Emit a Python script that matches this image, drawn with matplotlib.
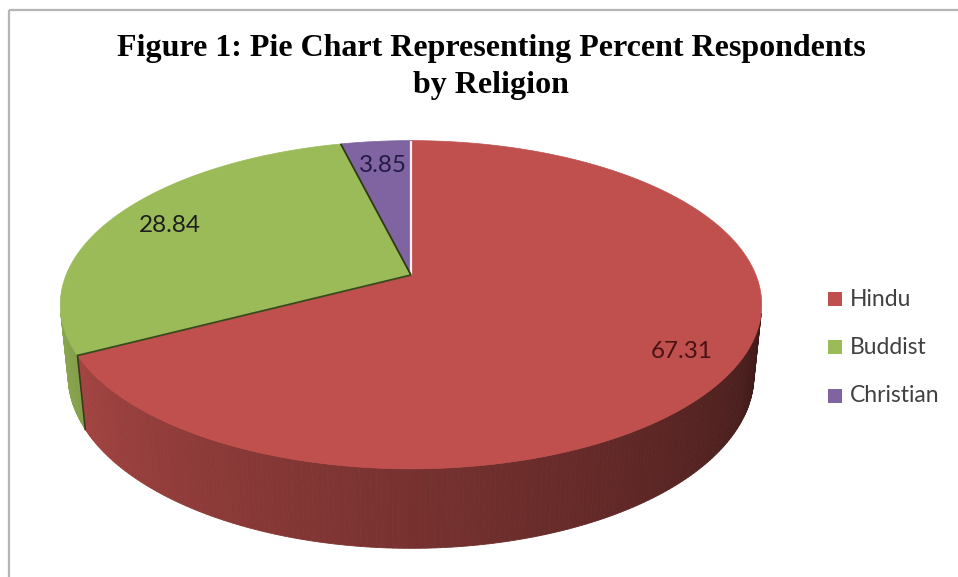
import numpy as np
import matplotlib
matplotlib.use("Agg")
import matplotlib.pyplot as plt
from matplotlib.patches import Polygon, Rectangle
from matplotlib.colors import to_rgb

# Survey shares (percent of respondents)
religions = ["Hindu", "Buddist", "Christian"]
percents = [67.31, 28.84, 3.85]
colors = ["#C0504D", "#9BBB59", "#8064A2"]
label_colors = ["#4a1212", "#1e1e1e", "#231a45"]

title = "Figure 1: Pie Chart Representing Percent Respondents\nby Religion"

# Perspective camera for the 3D pie (pixel units on a full-figure axes)
cx, cy = 411.0, 275.0
scale = 1690.0
dist = 4.9
elev = np.radians(27.4)
height = 0.232


def project(theta_deg, w):
    t = np.radians(theta_deg)
    u, v = np.cos(t), np.sin(t)
    depth = dist + v * np.cos(elev) - w * np.sin(elev)
    up = v * np.sin(elev) + w * np.cos(elev)
    return cx + scale * u / depth, cy - scale * up / depth


def shade(rgb, f):
    return tuple(np.clip(np.array(rgb) * f, 0, 1))


def side_brightness(theta_deg):
    t = theta_deg % 360
    return float(np.clip(0.62 - 0.0037 * (t - 270), 0.34, 0.9))


fig = plt.figure(figsize=(9.58, 5.77), dpi=100)
ax = fig.add_axes([0, 0, 1, 1])
ax.set_xlim(0, 958)
ax.set_ylim(577, 0)
ax.axis("off")

# chart frame
ax.add_patch(Rectangle((9.5, 9.5), 960, 580, fill=False, edgecolor="#b5b5b5", lw=1.6))

# wedge angle ranges, clockwise from 12 o'clock
bounds = []
start = 90.0
for p in percents:
    end = start - 360.0 * p / 100.0
    bounds.append((end, start))
    start = end

# visible part of the outer wall
lim = np.degrees(np.arcsin(1.0 / (dist * np.cos(elev))))
vis_lo, vis_hi = -180.0 + lim, -lim

# side walls
for (lo, hi), col in zip(bounds, colors):
    for off in (0.0, -360.0):
        a, b = max(lo + off, vis_lo), min(hi + off, vis_hi)
        if a >= b:
            continue
        steps = np.linspace(a, b, int((b - a) / 0.75) + 2)
        for t0, t1 in zip(steps[:-1], steps[1:]):
            pts = [project(t0, 0), project(t1, 0), project(t1, -height), project(t0, -height)]
            c = shade(to_rgb(col), side_brightness((t0 + t1) / 2))
            ax.add_patch(Polygon(pts, closed=True, facecolor=c, edgecolor=c, lw=0.6))

# seam between the green and red walls
seam = bounds[0][0]
if vis_lo <= seam <= vis_hi:
    x0, y0 = project(seam, 0)
    x1, y1 = project(seam, -height)
    ax.plot([x0, x1], [y0, y1], color="#3a3a1a", lw=1.2)

# top faces
for (lo, hi), col in zip(bounds, colors):
    th = np.linspace(lo, hi, 200)
    xs, ys = project(th, 0)
    pts = [(cx, cy)] + list(zip(xs, ys))
    ax.add_patch(Polygon(pts, closed=True, facecolor=col, edgecolor=col, lw=0.5))

# wedge boundaries on the top face
edge_cols = ["#f4f0f4", "#3b4a1c", "#2e3a14"]
for (lo, hi), ec in zip(bounds, edge_cols):
    x, y = project(hi, 0)
    ax.plot([cx, x], [cy, y], color=ec, lw=1.6 if ec.startswith("#f") else 1.3, solid_capstyle="butt")

# value labels placed on each slice
label_pos = {"Hindu": (682, 351), "Buddist": (170, 226), "Christian": (383, 165)}
for name, val, lc in zip(religions, percents, label_colors):
    x, y = label_pos[name]
    ax.text(x, y, f"{val:.2f}", ha="center", va="center", fontsize=17.5,
            family="Lato", color=lc)

# title
ax.text(491, 67, title, ha="center", va="center", fontsize=23, fontweight="bold",
        family="Liberation Serif", color="#000000", linespacing=1.32)

# legend
leg_y = [299, 347, 396]
for name, col, y in zip(religions, colors, leg_y):
    ax.add_patch(Rectangle((828, y - 7), 14, 14, facecolor=col, edgecolor="none"))
    ax.text(850, y, name, ha="left", va="center", fontsize=16.5, family="Lato", color="#404040")

fig.savefig("out.png", dpi=100)
